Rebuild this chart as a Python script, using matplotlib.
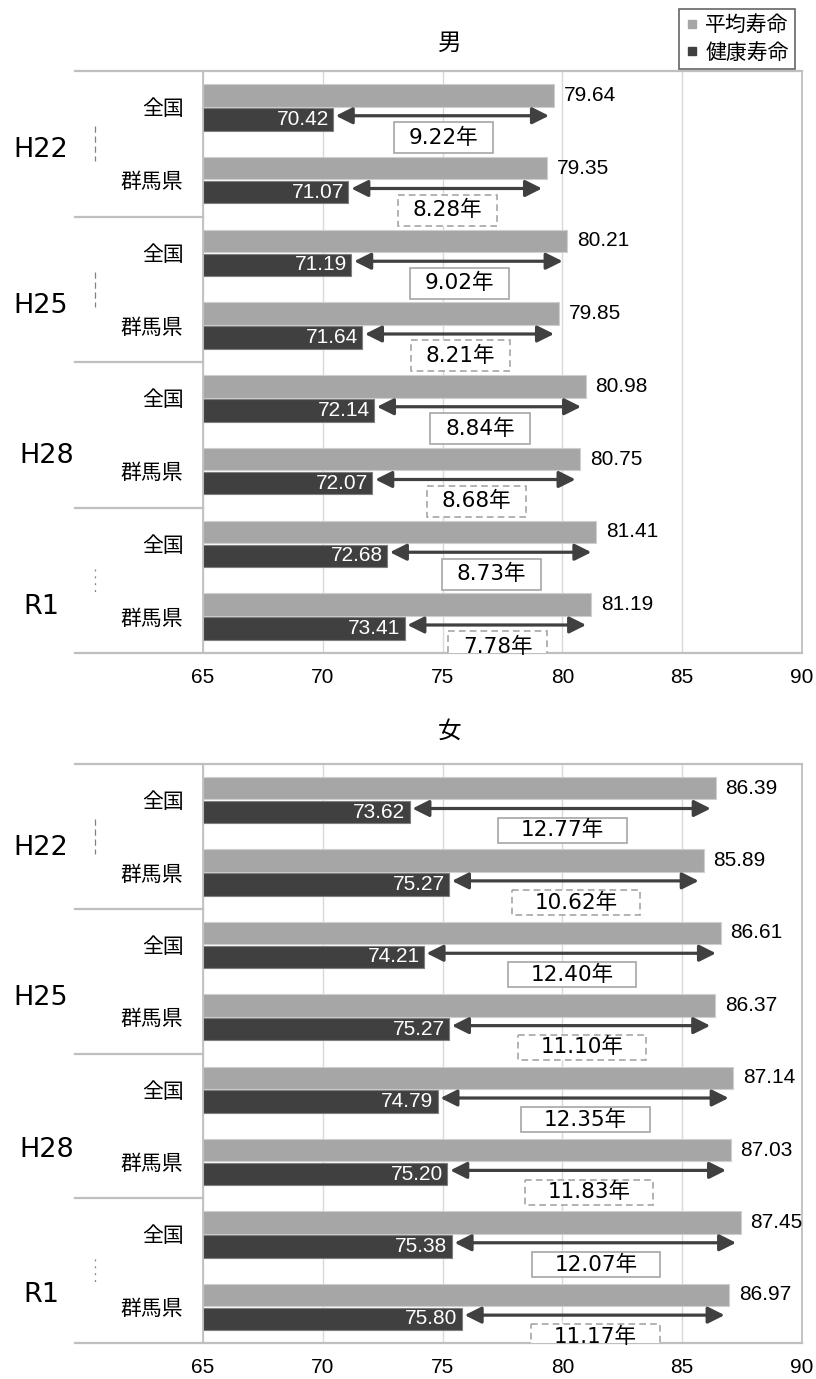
import matplotlib.pyplot as plt
from matplotlib.patches import Rectangle, FancyArrowPatch
from matplotlib.lines import Line2D

plt.rcParams['font.family'] = ['DejaVu Sans', 'Noto Sans CJK JP']

# data
years = ['H22', 'H25', 'H28', 'R1']
areas = ['全国', '群馬県']
series_names = ['平均寿命', '健康寿命']

male_avg = [79.64, 79.35, 80.21, 79.85, 80.98, 80.75, 81.41, 81.19]
male_hlt = [70.42, 71.07, 71.19, 71.64, 72.14, 72.07, 72.68, 73.41]
female_avg = [86.39, 85.89, 86.61, 86.37, 87.14, 87.03, 87.45, 86.97]
female_hlt = [73.62, 75.27, 74.21, 75.27, 74.79, 75.20, 75.38, 75.80]

x_ticks = [65, 70, 75, 80, 85, 90]

GRAY = '#a6a6a6'
DARK = '#404040'
LINE = '#bfbfbf'
GRID = '#d9d9d9'
NUM_FONT = ['Liberation Sans', 'DejaVu Sans']

fig = plt.figure(figsize=(8.16, 13.79), dpi=100)


def px_rect(x0, y0, x1, y1):
    W, H = 816, 1379
    return [x0 / W, 1 - y1 / H, (x1 - x0) / W, (y1 - y0) / H]


def draw_panel(rect, title, title_y, avg, hlt, box_w, box_h, year_dy, year_dx, marks):
    ax = fig.add_axes(rect)
    n = len(avg)
    centers = [i + 0.5 for i in range(n)]
    off = 0.165

    ax.set_xlim(x_ticks[0], x_ticks[-1])
    ax.set_ylim(n, 0)
    ax.set_axisbelow(True)
    ax.grid(axis='x', color=GRID, lw=1)

    ax.barh([c - off for c in centers], [a - x_ticks[0] for a in avg], left=x_ticks[0],
            height=0.31, color=GRAY, edgecolor='#cfcfcf', lw=0.8, zorder=2)
    ax.barh([c + off for c in centers], [h - x_ticks[0] for h in hlt], left=x_ticks[0],
            height=0.31, color=DARK, edgecolor='#7f7f7f', lw=0.8, zorder=2)

    for i, (c, a, h) in enumerate(zip(centers, avg, hlt)):
        ax.annotate(f'{a:.2f}', (a, c - off), xytext=(7, 0), textcoords='offset points',
                    ha='left', va='center', fontsize=15, family=NUM_FONT)
        ax.annotate(f'{h:.2f}', (h, c + off), xytext=(-3, 0), textcoords='offset points',
                    ha='right', va='center', fontsize=15, family=NUM_FONT,
                    color='white', zorder=5)
        ya = c + off - 0.05
        ax.add_patch(FancyArrowPatch((h + 0.12, ya), (a - 0.2, ya),
                                     arrowstyle='<|-|>,head_length=1.0,head_width=0.5',
                                     mutation_scale=10, color=DARK, lw=2.3,
                                     shrinkA=0, shrinkB=0, zorder=4))
        mid = (a + h) / 2
        yb = c + 0.415
        ls = '-' if i % 2 == 0 else (0, (4, 2.5))
        ax.add_patch(Rectangle((mid - box_w / 2, yb - box_h / 2), box_w, box_h,
                               fc='white', ec='#a6a6a6', lw=1.2, ls=ls, zorder=3))
        ax.text(mid, yb, f'{a - h:.2f}年', ha='center', va='center',
                fontsize=15.5, zorder=4)

    # category labels
    ax.set_yticks(centers, labels=areas * len(years))
    ax.tick_params(axis='y', length=0, pad=14, labelsize=15)
    ax.set_xticks(x_ticks)
    ax.tick_params(axis='x', length=0, pad=11, labelsize=15)
    for lbl in ax.get_xticklabels():
        lbl.set_family(NUM_FONT)

    for s in ['top', 'bottom']:
        ax.spines[s].set_visible(False)
    for s in ['left', 'right']:
        ax.spines[s].set_color(LINE)
        ax.spines[s].set_linewidth(1.3)

    # group separators extending to the left
    tr = ax.get_yaxis_transform()
    x_left = (75 - 203) / 599
    for g in range(len(years) + 1):
        yv = g * len(areas)
        x1 = 1 if g in (0, len(years)) else 0
        ax.plot([x_left, x1], [yv, yv], transform=tr, color=LINE, lw=1.6,
                clip_on=False, zorder=1)

    for g, yr in enumerate(years):
        ax.text((41 - 203) / 599 + year_dx[g], g * 2 + 1 + year_dy[g], yr, transform=tr,
                ha='center', va='center', fontsize=19.5)

    # stray dashed marks on the left of the chart
    for g, half, dash in marks:
        yc = g * 2 + 1
        ax.plot([(95 - 203) / 599] * 2, [yc - half, yc + half], transform=tr,
                color='#808080', lw=0.9, ls=(0, dash), clip_on=False)

    fig.text(450 / 816, 1 - title_y / 1379, title, ha='center', va='center', fontsize=17)
    return ax


draw_panel(px_rect(203, 71, 802, 653), '男', 43, male_avg, male_hlt,
           4.15, 0.426, [0.09, 0.23, 0.29, 0.37], [0, 0, 0.01, 0],
           [(0, 0.24, (5, 3)), (1, 0.24, (5, 3)), (3, 0.16, (1.5, 4))])
draw_panel(px_rect(203, 764, 802, 1343), '女', 731, female_avg, female_hlt,
           5.35, 0.345, [0.16, 0.23, 0.34, 0.34], [0, 0, 0.01, 0],
           [(0, 0.24, (5, 3)), (3, 0.16, (1.5, 4))])

handles = [Line2D([], [], ls='', marker='s', ms=6, color=GRAY),
           Line2D([], [], ls='', marker='s', ms=6, color=DARK)]
leg = fig.legend(handles, series_names, loc='upper right',
                 bbox_to_anchor=(795 / 816, 1 - 9 / 1379), frameon=True, fancybox=False,
                 edgecolor='#404040', fontsize=15, handlelength=0.6, handletextpad=0.35,
                 labelspacing=0.35, borderpad=0.3, borderaxespad=0)
leg.get_frame().set_linewidth(1.2)

fig.savefig('out.png', dpi=100)
